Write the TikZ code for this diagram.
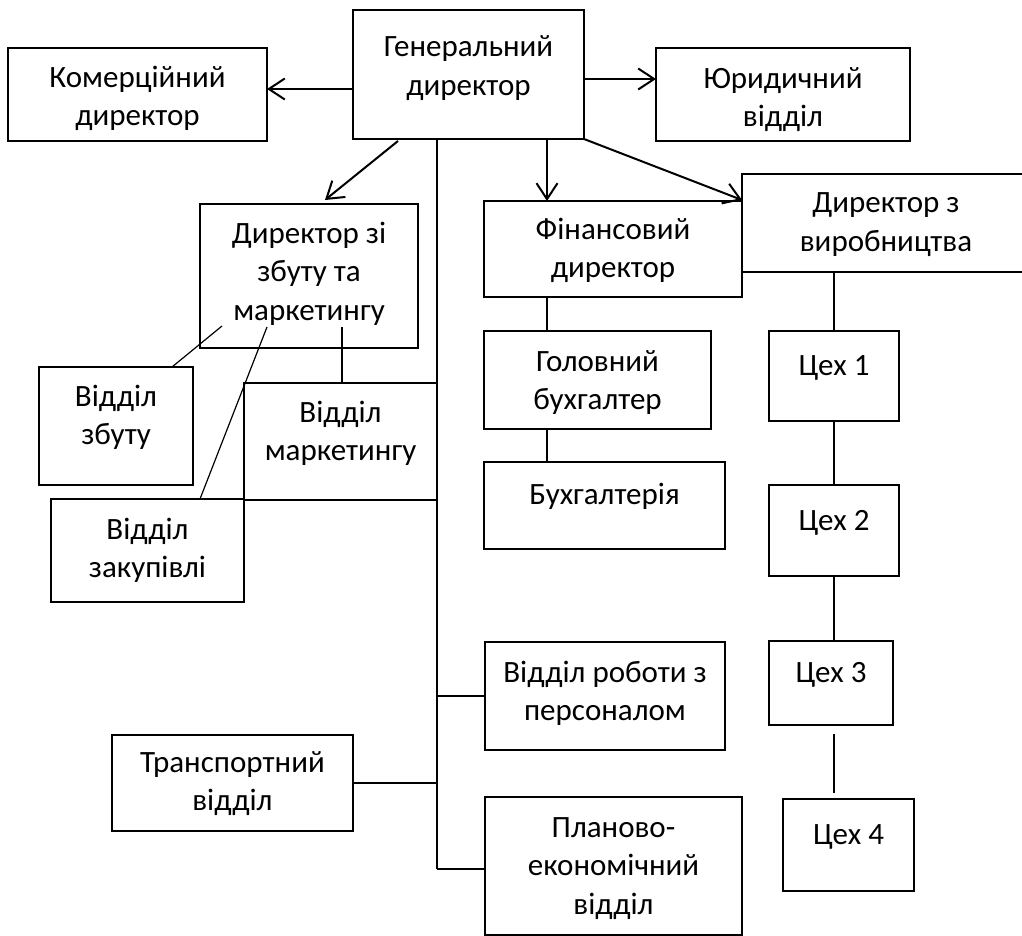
\documentclass[tikz,border=0pt]{standalone}
\usepackage{fontspec}
\setmainfont{Carlito}
\usetikzlibrary{arrows.meta,calc}
\tikzset{
  box/.style={draw=black,line width=1.2pt,inner sep=0pt,outer sep=0pt,fill=none},
  txt/.style={align=center,inner sep=0pt,font=\fontsize{31pt}{38.5pt}\selectfont},
  link/.style={draw=black,line width=1.8pt},
  thin/.style={draw=black,line width=1.2pt},
  arr/.style={draw=black,line width=2pt,-{Straight Barb[length=16pt,width=21pt,line width=2pt]}}
}
\newcommand\bx[5]{\node[box,minimum width={(#4)-(#2)},minimum height={(#5)-(#3)}] (#1) at ({((#2)+(#4))/2},{((#3)+(#5))/2}) {};}
\begin{document}
\begin{tikzpicture}[x=1pt,y=-1pt]
\clip (0,0) rectangle (1022,936);
\fill[white] (0,0) rectangle (1022,936);
% boxes
\bx{kom}{8}{48}{267}{141}
\bx{gen}{353}{10}{584}{139}
\bx{jur}{656}{48}{910}{141}
\bx{dzb}{200}{204}{418}{348}
\bx{fin}{484}{201}{742}{297}
\bx{dv}{742}{174}{1032}{272}
\bx{vz}{39}{367}{193}{485}
\bx{vm}{244}{383}{437}{500}
\bx{vzk}{51}{499}{244}{602}
\bx{gb}{484}{331}{711}{429}
\bx{bh}{484}{462}{725}{549}
\bx{c1}{769}{331}{899}{421}
\bx{c2}{769}{485}{899}{576}
\bx{c3}{769}{641}{893}{725}
\bx{c4}{783}{799}{914}{891}
\bx{vr}{485}{642}{725}{750}
\bx{tr}{112}{735}{353}{831}
\bx{pl}{485}{797}{742}{935}
% texts
\node[txt] (kom-t) at (137.5,99) {\strut Комерційний\\\strut директор};
\node[txt] (gen-t) at (468.5,68.5) {\strut Генеральний\\\strut директор};
\node[txt] (jur-t) at (783,100) {\strut Юридичний\\\strut відділ};
\node[txt] (dzb-t) at (309,274) {\strut Директор зі\\\strut збуту та\\\strut маркетингу};
\node[txt] (fin-t) at (613,251) {\strut Фінансовий\\\strut директор};
\node[txt] (dv-t) at (886,224.5) {\strut Директор з\\\strut виробництва};
\node[txt] (vz-t) at (116,418) {\strut Відділ\\\strut збуту};
\node[txt] (vm-t) at (340.5,434) {\strut Відділ\\\strut маркетингу};
\node[txt] (vzk-t) at (147.5,551) {\strut Відділ\\\strut закупівлі};
\node[txt] (gb-t) at (597.5,383) {\strut Головний\\\strut бухгалтер};
\node[txt] (bh-t) at (604.5,497) {\strut Бухгалтерія};
\node[txt] (c1-t) at (834,368) {\strut Цех 1};
\node[txt] (c2-t) at (834,523) {\strut Цех 2};
\node[txt] (c3-t) at (831,675) {\strut Цех 3};
\node[txt] (c4-t) at (848.5,837) {\strut Цех 4};
\node[txt] (vr-t) at (605,694) {\strut Відділ роботи з\\\strut персоналом};
\node[txt] (tr-t) at (232.5,784) {\strut Транспортний\\\strut відділ};
\node[txt] (pl-t) at (613.5,868) {\strut Планово-\\\strut економічний\\\strut відділ};
% named points
\coordinate (gk) at (353,89);
\coordinate (gj) at (584,79);
\coordinate (gd) at (398,141);
\coordinate (dt) at (325,200);
\coordinate (gf) at (547,139);
\coordinate (dvt) at (742,200);
\coordinate (trunk) at (437,139);
\coordinate (trunkend) at (437,869);
\coordinate (s1) at (222,326);
\coordinate (s2) at (172,367);
\coordinate (z1) at (267,327);
\coordinate (z2) at (200,499);
\coordinate (m1) at (342,327);
\coordinate (fc) at (547,297);
\coordinate (dvc) at (834,272);
\coordinate (g34a) at (834,734);
\coordinate (g34b) at (834,793);
% arrows
\draw[arr] (gk) -- (gk -| kom.east);
\draw[arr] (gj) -- (gj -| jur.west);
\draw[arr] (gd) -- (dt);
\draw[arr] (gf) -- (gf |- fin.north);
\draw[arr] (gen.south east) -- (dvt);
% trunk
\draw[link] (trunk) -- (trunkend);
\draw[link] (trunk |- vr.west) -- (vr.west);
\draw[link] (tr.east) -- (trunk |- tr.east);
\draw[link] (trunkend) -- (trunkend -| pl.west);
% finance chain
\draw[thin] (fc) -- (fc |- gb.north);
\draw[thin] (fc |- gb.south) -- (fc |- bh.north);
% production chain
\draw[link] (dvc) -- (dvc |- c1.north);
\draw[link] (dvc |- c1.south) -- (dvc |- c2.north);
\draw[link] (dvc |- c2.south) -- (dvc |- c3.north);
\draw[thin] (g34a) -- (g34b);
% sales director links
\draw[thin] (s1) -- (s2);
\draw[thin] (z1) -- (z2);
\draw[thin] (m1) -- (m1 |- vm.north);
\end{tikzpicture}
\end{document}
